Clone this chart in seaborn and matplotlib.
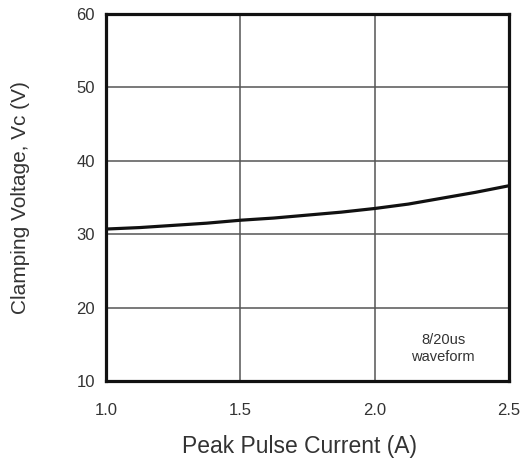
"Clamping voltage vs peak pulse current chart."
import matplotlib
matplotlib.use("Agg")
import matplotlib.pyplot as plt
import seaborn as sns
import pandas as pd

current_a = [1.0, 1.125, 1.25, 1.375, 1.5, 1.625, 1.75, 1.875, 2.0, 2.125, 2.25, 2.375, 2.5]
clamp_v = [30.7, 30.9, 31.2, 31.5, 31.9, 32.2, 32.6, 33.0, 33.5, 34.1, 34.9, 35.7, 36.6]
x_ticks = [1.0, 1.5, 2.0, 2.5]
y_ticks = [10, 20, 30, 40, 50, 60]

sns.set_theme(style="white")
plt.rcParams["font.family"] = ["Liberation Sans", "DejaVu Sans"]

df = pd.DataFrame({"current": current_a, "vc": clamp_v})

fig = plt.figure(figsize=(5.29, 4.63), dpi=100)
ax = fig.add_axes([0.2004, 0.177, 0.762, 0.793])

sns.lineplot(data=df, x="current", y="vc", ax=ax, color="#111111", linewidth=2.3)

ax.set_xlim(1.0, 2.5)
ax.set_ylim(10, 60)
ax.set_xticks(x_ticks)
ax.set_yticks(y_ticks)
ax.set_xticklabels([f"{t:.1f}" for t in x_ticks], fontsize=12, color="#333333")
ax.set_yticklabels([str(t) for t in y_ticks], fontsize=12, color="#333333")
ax.tick_params(axis="x", length=0, pad=16)
ax.tick_params(axis="y", length=0, pad=8)
ax.grid(True, color="#555555", linewidth=1.1)
ax.set_axisbelow(True)
for sp in ax.spines.values():
    sp.set_color("#111111")
    sp.set_linewidth(2.3)

ax.set_xlabel("Peak Pulse Current (A)", fontsize=16.5, color="#333333")
ax.xaxis.set_label_coords(0.48, -0.148)
ax.set_ylabel("Clamping Voltage, Vc (V)", fontsize=15, color="#333333", labelpad=33)

ax.text(2.255, 14.4, "8/20us\nwaveform", fontsize=10.5, color="#333333",
        ha="center", va="center", linespacing=1.3)

fig.savefig("out.png", dpi=100)
